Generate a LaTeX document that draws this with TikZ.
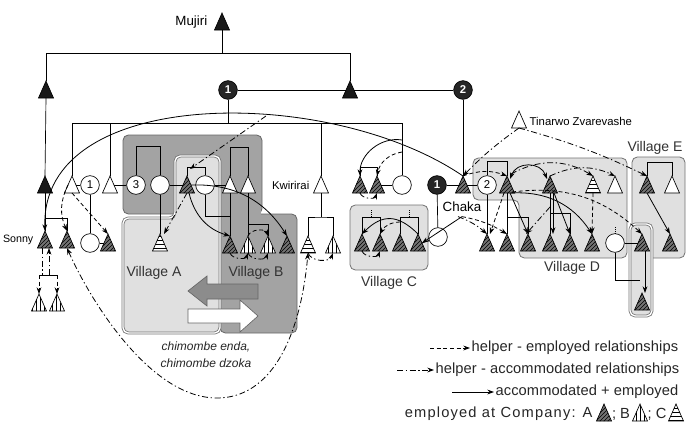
\documentclass[tikz,border=0pt]{standalone}
\usepackage{fontspec}
\setmainfont{Liberation Sans}
\usetikzlibrary{arrows.meta,patterns,calc}
\newcommand\Tri[4]{%
  \path[tribase,#4] (#2-7.5,#3+8) -- (#2+7.5,#3+8) -- (#2,#3-9) -- cycle;
  \coordinate (#1) at (#2,#3);
  \coordinate (#1-t) at (#2,#3-9);
  \coordinate (#1-b) at (#2,#3+8);
  \coordinate (#1-l) at (#2-4,#3);
  \coordinate (#1-r) at (#2+4,#3);
}
\tikzset{
  tribase/.style={draw=black, line width=0.5pt, line join=miter},
  tB/.style={fill=black!90},
  tW/.style={fill=white},
  tH/.style={fill=black!55, postaction={pattern=north east lines}},
  tV/.style={fill=white, postaction={pattern=vertical lines}},
  tC/.style={fill=white, postaction={pattern=horizontal lines}},
  fem/.style={circle, draw, fill=white, line width=0.5pt, minimum size=14pt, inner sep=0pt, font=\fontsize{8.5}{9}\selectfont},
  femB/.style={fem, fill=black!85, text=white, font=\bfseries\fontsize{8.5}{9}\selectfont},
  kin/.style={line width=0.5pt},
  tipS/.style={-{Stealth[length=5pt,width=3.6pt]}},
  both/.style={{Stealth[length=5pt,width=3.6pt]}-{Stealth[length=5pt,width=3.6pt]}},
  sol/.style={tipS, line width=0.6pt},
  dsh/.style={tipS, line width=0.6pt, dash pattern=on 3pt off 2pt},
  dd/.style={tipS, line width=0.6pt, dash pattern=on 4.5pt off 2pt on 1pt off 2pt},
  lbox/.style={fill=black!12, draw=black!55, line width=0.6pt, rounded corners=4pt},
  dbox/.style={fill=black!36, draw=black!60, line width=0.6pt, rounded corners=4pt},
  vlab/.style={font=\fontsize{10.5}{12}\selectfont, text=black!80},
  leg/.style={font=\fontsize{11}{12}\selectfont, text=black!85, inner sep=1pt},
  small/.style={font=\fontsize{8}{10}\selectfont},
}
\begin{document}
\begin{tikzpicture}[x=0.75pt,y=-0.75pt]
\useasboundingbox (0,0) rectangle (686,429);
\fill[white] (0,0) rectangle (686,429);

% ---------- village boxes ----------
\path[dbox] (123,135) rectangle (262,214);
\path[dbox] (220,214) rectangle (297,333);
\fill[black!36] (221,206) rectangle (261,222);
\path[lbox, double=white, double distance=1pt] (123,218) -- (175,218) -- (175,156) -- (220,156) -- (220,333) -- (123,333) -- cycle;
\path[lbox] (350,205) rectangle (428,270);
\path[lbox] (473,158) -- (627,158) -- (627,258) -- (519,258) -- (519,200) -- (473,200) -- cycle;
\path[lbox] (632,157) rectangle (685,258);
\path[lbox, double=white, double distance=1pt] (630,224) rectangle (652,316);

% block arrows
\path[draw=black!60, fill=black!45, line width=0.5pt] (188,291) -- (207,276) -- (207,284) -- (258,284) -- (258,299) -- (207,299) -- (207,306) -- cycle;
\path[draw=black!60, fill=white, line width=0.5pt] (258,316) -- (240,300) -- (240,309) -- (188,309) -- (188,323) -- (240,323) -- (240,332) -- cycle;

\node[vlab] (vA) at (154,273) {Village A};
\node[vlab] (vB) at (256,273) {Village B};
\node[vlab] (vC) at (389,283) {Village C};
\node[vlab] (vD) at (572,268) {Village D};
\node[vlab] (vE) at (655,148) {Village E};
\node[font=\itshape\fontsize{9}{12.5}\selectfont, align=center, text=black!85] (chim) at (206,355) {chimombe enda,\\chimombe dzoka};

% ---------- people ----------
\Tri{M}{222}{22}{tB}
\node[anchor=east, font=\fontsize{10}{12}\selectfont] (mujiri) at (212,22) {Mujiri};
\Tri{L1}{46}{90}{tB}
\Tri{T350}{350}{90}{tB}
\node[femB] (W1) at (228,90) {1};
\node[femB] (W2) at (463,90) {2};

\Tri{L2}{45}{185}{tB}
\Tri{A72}{72}{185}{tW}
\node[fem] (C1) at (90,185) {1};
\Tri{A110}{110}{185}{tW}
\node[fem] (C3) at (136,185) {3};
\node[fem] (C160) at (160,185) {};
\Tri{H187}{187}{185}{tH}
\node[fem] (C205) at (205,185) {};
\Tri{A230}{230}{185}{tW}
\Tri{A248}{248}{185}{tW}
\Tri{K}{321}{185}{tW}
\node[anchor=east, font=\fontsize{8.5}{10}\selectfont] (kwl) at (314,185) {Kwirirai};
\Tri{G360}{360}{185}{tH}
\Tri{G377}{377}{185}{tH}
\node[fem] (C402) at (402,185) {};
\node[femB] (B1) at (437,185) {1};
\Tri{CH}{463}{185}{tH}
\node[fem] (CW2) at (487,185) {2};
\Tri{D507}{507}{185}{tH}
\Tri{D550}{550}{185}{tH}
\Tri{D593}{593}{185}{tC}
\Tri{D615}{615}{185}{tW}
\Tri{E647}{647}{185}{tH}
\Tri{E672}{672}{185}{tW}
\Tri{TZ}{519}{120}{tW}
\node[anchor=west, font=\fontsize{8.5}{10}\selectfont] (tzl) at (525,121) {Tinarwo Zvarevashe};
\node[font=\fontsize{10}{12}\selectfont] (chaka) at (462,207) {Chaka};

\Tri{S45}{45}{240}{tH}
\Tri{S67}{67}{240}{tH}
\node[anchor=east, small] (sonny) at (38,240) {Sonny};
\Tri{SC1}{39}{303}{tV}
\Tri{SC2}{57}{303}{tV}
\node[fem] (C90) at (90,243) {};
\Tri{H108}{108}{243}{tH}
\Tri{HC160}{160}{243}{tC}
\Tri{HB230}{230}{245}{tH}
\Tri{VB248}{248}{245}{tV}
\Tri{VB268}{268}{245}{tV}
\Tri{HB287}{287}{245}{tH}
\Tri{KC}{308}{245}{tC}
\Tri{KB}{333}{245}{tV}
\Tri{V362}{362}{243}{tH}
\Tri{V380}{380}{243}{tH}
\Tri{V400}{400}{243}{tH}
\Tri{V418}{418}{243}{tH}
\node[fem] (C438) at (438,237) {};
\Tri{DB487}{487}{243}{tH}
\Tri{DB507}{507}{243}{tH}
\Tri{DB528}{528}{243}{tH}
\Tri{DB550}{550}{243}{tH}
\Tri{DB570}{570}{243}{tH}
\Tri{DB592}{592}{243}{tH}
\node[fem] (CD615) at (615,243) {};
\Tri{DN642}{642}{243}{tH}
\Tri{DN642b}{642}{302}{tH}
\Tri{DE670}{670}{243}{tH}

% ---------- kinship lines ----------
\coordinate (hM) at (222,53);
\coordinate (hR) at (350,53);
\coordinate (g1L) at (72,123);
\coordinate (g1R) at (402,123);
\draw[kin] (M-b) -- (hM);
\draw[kin] (L1-t) |- (hR) -- (T350-t);
\draw[kin] (W1) -- (T350-l);
\draw[kin] (T350-r) -- (W2);
\draw[kin] (W1) -- (W1 |- g1L);
\draw[kin] (A72-t) -- (g1L) -- (g1R) -- (C402);
\draw[kin] (A110-t) -- (A110-t |- g1L);
\draw[kin] (K-t) -- (K-t |- g1L);
\draw[kin] (W2) -- (CH-t);
\draw[kin] (L1-b) -- (L2-t);

\draw[kin] (A72-r) -- (C1);
\draw[kin] (A110-r) -- (C3);
\draw[kin] (C160) -- (H187-l);
\draw[kin] (C205) -- (A230-l);
\draw[kin] (G377-r) -- (C402);
\draw[kin] (B1) -- (CH-l);
\draw[kin] (CH-r) -- (CW2);
\draw[kin] (C3.north) -- ++(0,-29) -| (C160.north);
\draw[kin] (H187-t) -- ++(0,-9) -| (C205.north);
\draw[kin] (A230-t) -- ++(0,-29) -| (A248-t);
\draw[kin] (G360-t) -- ++(0,-9) -| (G377-t);
\draw[kin] (CW2.north) -- ++(0,-14) -| (D507-t);
\draw[kin] (E647-t) -- ++(0,-14) -| (E672-t);
\draw[kin] (B1) -- (C438);

% Sonny
\coordinate (sbr) at (45,218);
\draw[kin] (L2-b) -- (S45-t);
\draw[kin] (sbr) -| (S67-t);
\coordinate (scb) at (45,275);
\draw[kin] (SC1-t |- scb) -- (SC2-t |- scb);
\draw[dsh] (SC1-t |- scb) -- (SC1-t);
\draw[dsh] (SC2-t |- scb) -- (SC2-t);
\draw[dd] ($(scb)+(4,0)$) -- ($(S45-b)+(4,0)$);
\draw[dd,-] ($(S45-b)+(-3,0)$) -- ($(scb)+(-3,0)$);

\draw[kin] (C1) -- (C90);
\draw[kin] (C90) -- (H108-l);
\draw[kin] (C160) -- (HC160-t);
\coordinate (vbj) at (230,216);
\draw[kin] (C205) |- (vbj) -- (HB230-t);
\draw[kin] (A230-b) -- (vbj);
\draw[kin] (A248-b) -- (VB248-t);
\coordinate (vbk) at (248,224);
\draw[kin] (vbk) -| (VB268-t);
\coordinate (kj) at (321,217);
\draw[kin] (K-b) -- (kj);
\draw[kin] (KC-t) |- (kj) -| (KB-t);

\draw[kin] (V362-t) -- ++(0,-17) -| (V380-t);
\draw[kin] (V400-t) -- ++(0,-17) -| (V418-t);
\draw[kin, densely dotted] ($(V362-t)!0.5!(V380-t)+(0,-17)$) -- ++(0,-7);
\draw[kin, densely dotted] ($(V400-t)!0.5!(V418-t)+(0,-17)$) -- ++(0,-7);
\draw[kin] (V418-r) -- (C438);

\draw[kin] (CW2) -- (DB487-t);
\draw[kin] (D507-b) -- (DB507-t);
\coordinate (d5j) at (507,217);
\draw[kin] (d5j) -| (DB528-t);
\coordinate (d55j) at (550,213);
\draw[kin] (D550-b) -- (DB550-t);
\draw[kin] (d55j) -| (DB570-t);
\draw[kin] (CD615) -- (DN642-l);
\coordinate (cdj) at (640,280);
\draw[kin] (CD615) |- (cdj);
\draw[kin, densely dotted] (CD615.north) -- ++(0,-8);

% ---------- relationship arrows ----------
\draw[sol] (CH-t) .. controls (330,85) and (40,85) .. (S45-t);
\draw[dsh] (A72-b) -- (H108-t);
\draw[dsh] (A72-l) to[bend right=25] (S67-t);
\draw[dd, both] (S67-b) .. controls (90,300) and (150,398) .. (217,398) .. controls (270,398) and (300,340) .. (KC-b);

\coordinate (ddtop) at (266,116);
\draw[dd] (ddtop) -- ($(H187-t)+(3,-7)$);
\draw[dd] (H187-b) -- ($(HC160-t)+(4,0)$);
\draw[sol] ($(H187-b)+(2,0)$) to[bend right=30] (HB230-t);
\draw[sol] (H187-r) to[bend left=30] (HB287-t);
\draw[dsh] (VB248-t) to[bend left=70] (VB268-t);
\draw[dd] (HB230-b) to[bend right=70] (VB248-b);
\draw[dd] (VB248-b) to[bend right=70] (VB268-b);
\draw[dd] (KC-b) to[bend right=70] (KB-b);

\coordinate (c4a) at (402,140);
\coordinate (c4b) at (402,152);
\draw[sol] (c4a) to[bend right=50] (G360-t);
\draw[dsh] (c4b) to[bend right=35] (G377-t);
\draw[dd] (G360-b) to[bend right=70] (G377-b);
\draw[sol] (V418-t) to[bend right=45, looseness=1.3] (V362-t);
\draw[dsh] ($(V400-t)+(0,-12)$) to[bend right=30] (V380-t);
\draw[dd] (V362-b) to[bend right=70] (V380-b);

\draw[sol] (chaka.south) -- (V418-r);
\draw[dd] ($(chaka.south)+(-4,0)$) to[bend left=10] (DB487-t);
\draw[dsh] (chaka.south) to[bend left=10] (DB507-t);
\draw[dd] (TZ-b) to[bend right=5] (CH-t);
\draw[dd] (TZ-b) to[bend left=5] (E647-t);
\draw[dsh] (CH-t) to[bend left=20] (D507-t);

\draw[sol, both] ($(D507-t)+(3,3)$) to[bend left=70, looseness=1.3] ($(D550-t)+(-3,3)$);
\draw[dd] ($(D507-t)+(4,-2)$) to[bend left=30] (D593-t);
\draw[dd] (D550-t) to[bend left=25] (D615-t);
\draw[sol] ($(D507-b)+(3,0)$) -- (DB528-t);
\draw[sol] ($(D507-b)+(4,0)$) to[bend left=30] (DB592-t);
\draw[dsh] ($(D507-b)+(5,-1)$) to[bend left=25] (DN642-t);
\draw[dsh] ($(D507-b)+(-3,0)$) -- ($(DB487-t)+(3,0)$);
\draw[sol] ($(D550-b)+(3,0)$) -- ($(DB550-t)+(3,0)$);
\draw[sol] ($(D550-b)+(4,0)$) -- (DB570-t);
\draw[dd] ($(D550-b)+(0,14)$) -- ($(DB528-t)+(-2,0)$);
\draw[dsh] (D593-b) -- (DB592-t);
\draw[sol] ($(DN642-b)+(3,0)$) -- ($(DN642b-t)+(3,0)$);
\draw[sol] (E647-b) -- (DE670-t);

% ---------- legend ----------
\node[leg, anchor=west] (l1) at (470,348) {\addfontfeature{LetterSpace=0.7}helper - employed relationships};
\node[leg, anchor=west] (l2) at (434,370) {\addfontfeature{LetterSpace=0.7}helper - accommodated relationships};
\node[leg, anchor=west] (l3) at (494,392) {\addfontfeature{LetterSpace=0.7}accommodated + employed};
\coordinate (l1s) at (430,348);
\coordinate (l2s) at (397,370);
\coordinate (l3s) at (452,392);
\draw[dsh] (l1s) -- (l1.west);
\draw[dd] (l2s) -- (l2.west);
\draw[sol] (l3s) -- (l3.west);
\node[leg, anchor=east] (l4) at (594,414) {\addfontfeature{LetterSpace=8}employed at Company: A};
\Tri{LA}{604}{413}{tH}
\node[leg] (l4b) at (621,414) {; B};
\Tri{LB}{640}{413}{tV}
\node[leg] (l4c) at (657,414) {; C};
\Tri{LC}{676}{413}{tC}
\end{tikzpicture}
\end{document}
